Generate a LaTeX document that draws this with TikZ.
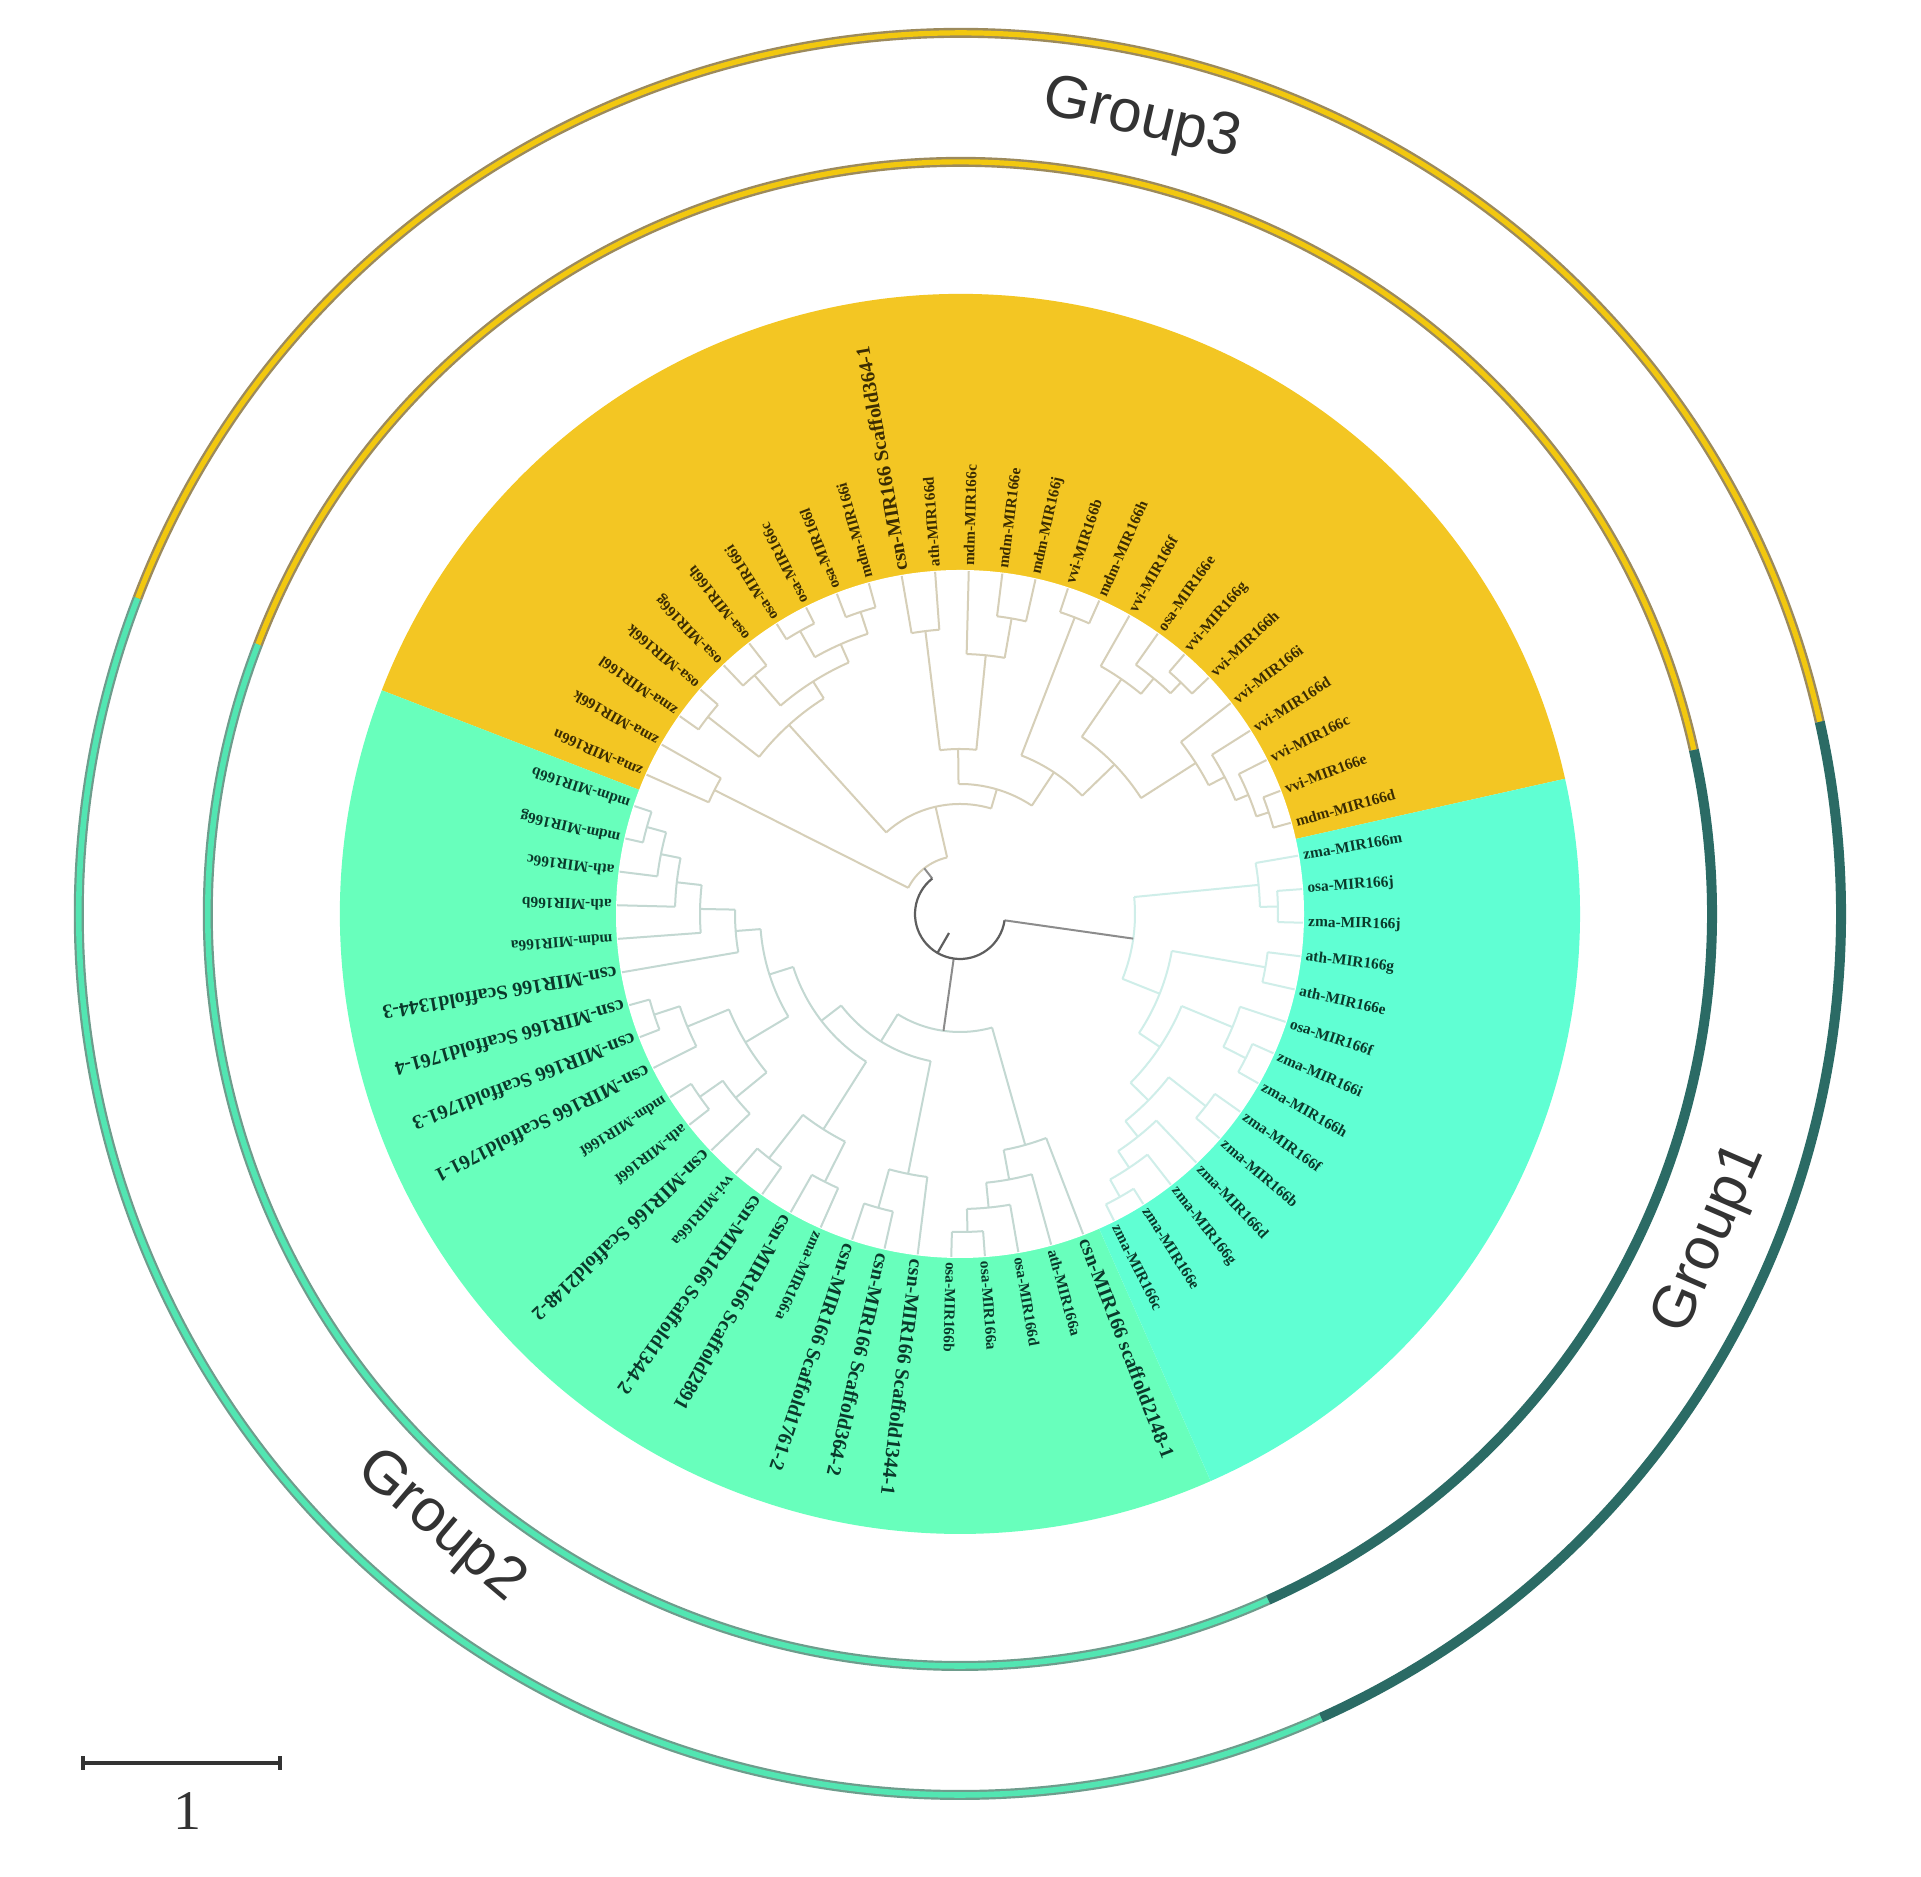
\documentclass[tikz,border=0pt]{standalone}
\usepackage{fontspec}
\setmainfont{Liberation Serif}
\newfontfamily\grpfont{Liberation Sans}
\definecolor{cgold}{HTML}{F3C623}
\definecolor{cgrA}{HTML}{60FFD3}
\definecolor{cgrB}{HTML}{68FFBC}
\definecolor{rgold}{HTML}{F2C80F}
\definecolor{rgoldE}{HTML}{9C8A5C}
\definecolor{rteal}{HTML}{2B6B65}
\definecolor{rgreen}{HTML}{52E6B2}
\definecolor{rgreenE}{HTML}{6E9C8C}
\definecolor{bgold}{HTML}{D6CFB8}
\definecolor{bgtwo}{HTML}{C3D8D2}
\definecolor{bgone}{HTML}{CFEEE9}
\definecolor{broot}{HTML}{5E5E5E}
\definecolor{bstem}{HTML}{8C8C8C}
\definecolor{tgold}{HTML}{3B2C02}
\definecolor{tgreen}{HTML}{0A3A2B}
\definecolor{grptext}{HTML}{333333}
\tikzset{
  brg/.style={draw=bgold,line width=1pt},
  brtwo/.style={draw=bgtwo,line width=1pt},
  brone/.style={draw=bgone,line width=1pt},
  brroot/.style={draw=broot,line width=1.1pt},
  brstem/.style={draw=bstem,line width=1pt},
  labs/.style={font=\fontsize{7.7}{8}\selectfont\bfseries},
  labb/.style={font=\fontsize{10}{11}\selectfont\bfseries},
  grp/.style={font=\grpfont\fontsize{30}{30}\selectfont,text=grptext,inner sep=0pt},
}
% clade: child pos 1, child pos 2, radius, parent radius, arc style, stem style
\newcommand\clade[6]{%
  \pgfmathsetmacro\aA{9.7875-5.625*(#1)}%
  \pgfmathsetmacro\aB{9.7875-5.625*(#2)}%
  \pgfmathsetmacro\aM{9.7875-5.625*((#1)+(#2))/2}%
  \pgfmathsetmacro\rr{(#3)*0.5}%
  \draw[#5] (\aA:#3) arc[start angle=\aA, end angle=\aB, radius=\rr pt];
  \draw[#6] (\aM:#4) -- (\aM:#3);}
% leaf: index, parent radius, style
\newcommand\leaf[3]{%
  \pgfmathsetmacro\aA{9.7875-5.625*(#1)}%
  \draw[#3] (\aA:#2) -- (\aA:343);}
% label: index, text, size style, colour
\newcommand\lab[4]{%
  \pgfmathsetmacro\la{9.7875-5.625*(#1)}%
  \node[#3,text=#4,rotate=\la,anchor=west,inner sep=0pt] (L#1) at (\la:348) {#2};}
% ring arc: start, end, radius, style
\newcommand\ringarc[4]{%
  \pgfmathsetmacro\rr{(#3)*0.5}%
  \draw[#4] (#1:#3) arc[start angle=#1, end angle=#2, radius=\rr pt];}
\begin{document}
\begin{tikzpicture}[x=0.5pt,y=0.5pt]
\useasboundingbox (0,0) rectangle (1921,1877);
\fill[white] (0,0) rectangle (1921,1877);
\begin{scope}[shift={(960,963)}]
% coloured sectors
\fill[cgold] (0,0) -- (12.6:620) arc[start angle=12.6, end angle=158.85, radius=310pt] -- cycle;
\fill[cgrB] (0,0) -- (158.85:620) arc[start angle=158.85, end angle=293.85, radius=310pt] -- cycle;
\fill[cgrA] (0,0) -- (-66.15:620) arc[start angle=-66.15, end angle=12.6, radius=310pt] -- cycle;
\fill[white] (0,0) circle[radius=172pt];
% rings
\foreach \R in {752,881}{
  \ringarc{12.6}{159.0}{\R}{draw=rgoldE,line width=5pt}
  \ringarc{12.6}{159.0}{\R}{draw=rgold,line width=2.6pt}
  \ringarc{159.0}{294.2}{\R}{draw=rgreenE,line width=5pt}
  \ringarc{159.0}{294.2}{\R}{draw=rgreen,line width=2.8pt}
  \ringarc{-65.8}{12.6}{\R}{draw=rteal,line width=5pt}
}
% ---------------- Group1 tree
\clade{1}{2}{318}{300}{brone}{brone}
\clade{0}{1.5}{300}{175}{brone}{brone}
\clade{3}{4}{310}{215}{brone}{brone}
\clade{6}{7}{320}{295}{brone}{brone}
\clade{5}{6.5}{295}{240}{brone}{brone}
\clade{8}{9}{312}{265}{brone}{brone}
\clade{12}{13}{325}{305}{brone}{brone}
\clade{11}{12.5}{305}{285}{brone}{brone}
\clade{10}{11.75}{285}{265}{brone}{brone}
\clade{8.5}{10.875}{265}{240}{brone}{brone}
\clade{5.75}{9.6875}{240}{215}{brone}{brone}
\clade{3.5}{7.71875}{215}{175}{brone}{brone}
\clade{0.75}{5.609375}{175}{45}{brone}{brstem}
\leaf{0}{300}{brone}\leaf{1}{318}{brone}\leaf{2}{318}{brone}
\leaf{3}{310}{brone}\leaf{4}{310}{brone}\leaf{5}{295}{brone}
\leaf{6}{320}{brone}\leaf{7}{320}{brone}\leaf{8}{312}{brone}
\leaf{9}{312}{brone}\leaf{10}{285}{brone}\leaf{11}{305}{brone}
\leaf{12}{325}{brone}\leaf{13}{325}{brone}
% ---------------- Group2 tree
\clade{17}{18}{318}{295}{brtwo}{brtwo}
\clade{16}{17.5}{295}{270}{brtwo}{brtwo}
\clade{15}{16.75}{270}{240}{brtwo}{brtwo}
\clade{14}{15.875}{240}{118}{brtwo}{brtwo}
\clade{20}{21}{305}{265}{brtwo}{brtwo}
\clade{19}{20.5}{265}{150}{brtwo}{brtwo}
\clade{22}{23}{300}{255}{brtwo}{brtwo}
\clade{24}{25}{310}{255}{brtwo}{brtwo}
\clade{22.5}{24.5}{255}{175}{brtwo}{brtwo}
\clade{27}{28}{318}{290}{brtwo}{brtwo}
\clade{26}{27.5}{290}{250}{brtwo}{brtwo}
\clade{30}{31}{322}{295}{brtwo}{brtwo}
\clade{29}{30.5}{295}{250}{brtwo}{brtwo}
\clade{26.75}{29.75}{250}{200}{brtwo}{brtwo}
\clade{36}{37}{325}{305}{brtwo}{brtwo}
\clade{35}{36.5}{305}{285}{brtwo}{brtwo}
\clade{34}{35.75}{285}{260}{brtwo}{brtwo}
\clade{33}{34.875}{260}{225}{brtwo}{brtwo}
\clade{32}{33.9375}{225}{200}{brtwo}{brtwo}
\clade{28.25}{32.96875}{200}{175}{brtwo}{brtwo}
\clade{23.5}{30.609375}{175}{150}{brtwo}{brtwo}
\clade{19.75}{27.0546875}{150}{118}{brtwo}{brtwo}
\clade{14.9375}{23.40234375}{118}{45}{brtwo}{brstem}
\leaf{14}{240}{brtwo}\leaf{15}{270}{brtwo}\leaf{16}{295}{brtwo}
\leaf{17}{318}{brtwo}\leaf{18}{318}{brtwo}\leaf{19}{265}{brtwo}
\leaf{20}{305}{brtwo}\leaf{21}{305}{brtwo}\leaf{22}{300}{brtwo}
\leaf{23}{300}{brtwo}\leaf{24}{310}{brtwo}\leaf{25}{310}{brtwo}
\leaf{26}{290}{brtwo}\leaf{27}{318}{brtwo}\leaf{28}{318}{brtwo}
\leaf{29}{295}{brtwo}\leaf{30}{322}{brtwo}\leaf{31}{322}{brtwo}
\leaf{32}{225}{brtwo}\leaf{33}{260}{brtwo}\leaf{34}{285}{brtwo}
\leaf{35}{305}{brtwo}\leaf{36}{325}{brtwo}\leaf{37}{325}{brtwo}
% ---------------- Group3 tree
\clade{38}{39}{275}{58}{brg}{brg}
\clade{40}{41}{320}{255}{brg}{brg}
\clade{42}{43}{315}{275}{brg}{brg}
\clade{44}{45}{325}{295}{brg}{brg}
\clade{46}{47}{318}{295}{brg}{brg}
\clade{44.5}{46.5}{295}{275}{brg}{brg}
\clade{42.5}{45.5}{275}{255}{brg}{brg}
\clade{40.5}{44}{255}{110}{brg}{brg}
\clade{48}{49}{285}{165}{brg}{brg}
\clade{51}{52}{300}{260}{brg}{brg}
\clade{50}{51.5}{260}{165}{brg}{brg}
\clade{48.5}{50.75}{165}{130}{brg}{brg}
\clade{53}{54}{318}{170}{brg}{brg}
\clade{57}{58}{320}{305}{brg}{brg}
\clade{56}{57.5}{305}{285}{brg}{brg}
\clade{55}{56.75}{285}{215}{brg}{brg}
\clade{62}{63}{325}{312}{brg}{brg}
\clade{61}{62.5}{312}{298}{brg}{brg}
\clade{60}{61.75}{298}{280}{brg}{brg}
\clade{59}{60.875}{280}{215}{brg}{brg}
\clade{55.875}{59.9375}{215}{170}{brg}{brg}
\clade{53.5}{57.90625}{170}{130}{brg}{brg}
\clade{49.625}{55.703125}{130}{110}{brg}{brg}
\clade{42.25}{52.6640625}{110}{58}{brg}{brg}
\clade{38.5}{47.45703125}{58}{45}{brg}{brstem}
\leaf{38}{275}{brg}\leaf{39}{275}{brg}\leaf{40}{320}{brg}
\leaf{41}{320}{brg}\leaf{42}{315}{brg}\leaf{43}{315}{brg}
\leaf{44}{325}{brg}\leaf{45}{325}{brg}\leaf{46}{318}{brg}
\leaf{47}{318}{brg}\leaf{48}{285}{brg}\leaf{49}{285}{brg}
\leaf{50}{260}{brg}\leaf{51}{300}{brg}\leaf{52}{300}{brg}
\leaf{53}{318}{brg}\leaf{54}{318}{brg}\leaf{55}{285}{brg}
\leaf{56}{305}{brg}\leaf{57}{320}{brg}\leaf{58}{320}{brg}
\leaf{59}{280}{brg}\leaf{60}{298}{brg}\leaf{61}{312}{brg}
\leaf{62}{325}{brg}\leaf{63}{325}{brg}
% ---------------- root
\clade{3.1796875}{42.978515625}{45}{22}{brroot}{brroot}
% ---------------- labels Group1
\lab{0}{zma-MIR166m}{labs}{tgreen}
\lab{1}{osa-MIR166j}{labs}{tgreen}
\lab{2}{zma-MIR166j}{labs}{tgreen}
\lab{3}{ath-MIR166g}{labs}{tgreen}
\lab{4}{ath-MIR166e}{labs}{tgreen}
\lab{5}{osa-MIR166f}{labs}{tgreen}
\lab{6}{zma-MIR166i}{labs}{tgreen}
\lab{7}{zma-MIR166h}{labs}{tgreen}
\lab{8}{zma-MIR166f}{labs}{tgreen}
\lab{9}{zma-MIR166b}{labs}{tgreen}
\lab{10}{zma-MIR166d}{labs}{tgreen}
\lab{11}{zma-MIR166g}{labs}{tgreen}
\lab{12}{zma-MIR166e}{labs}{tgreen}
\lab{13}{zma-MIR166c}{labs}{tgreen}
% ---------------- labels Group2
\lab{14}{csn-MIR166 scaffold2148-1}{labb}{tgreen}
\lab{15}{ath-MIR166a}{labs}{tgreen}
\lab{16}{osa-MIR166d}{labs}{tgreen}
\lab{17}{osa-MIR166a}{labs}{tgreen}
\lab{18}{osa-MIR166b}{labs}{tgreen}
\lab{19}{csn-MIR166 Scaffold1344-1}{labb}{tgreen}
\lab{20}{csn-MIR166 Scaffold364-2}{labb}{tgreen}
\lab{21}{csn-MIR166 Scaffold1761-2}{labb}{tgreen}
\lab{22}{zma-MIR166a}{labs}{tgreen}
\lab{23}{csn-MIR166 Scaffold2891}{labb}{tgreen}
\lab{24}{csn-MIR166 Scaffold1344-2}{labb}{tgreen}
\lab{25}{vvi-MIR166a}{labs}{tgreen}
\lab{26}{csn-MIR166 Scaffold2148-2}{labb}{tgreen}
\lab{27}{ath-MIR166f}{labs}{tgreen}
\lab{28}{mdm-MIR166f}{labs}{tgreen}
\lab{29}{csn-MIR166 Scaffold1761-1}{labb}{tgreen}
\lab{30}{csn-MIR166 Scaffold1761-3}{labb}{tgreen}
\lab{31}{csn-MIR166 Scaffold1761-4}{labb}{tgreen}
\lab{32}{csn-MIR166 Scaffold1344-3}{labb}{tgreen}
\lab{33}{mdm-MIR166a}{labs}{tgreen}
\lab{34}{ath-MIR166b}{labs}{tgreen}
\lab{35}{ath-MIR166c}{labs}{tgreen}
\lab{36}{mdm-MIR166g}{labs}{tgreen}
\lab{37}{mdm-MIR166b}{labs}{tgreen}
% ---------------- labels Group3
\lab{38}{zma-MIR166n}{labs}{tgold}
\lab{39}{zma-MIR166k}{labs}{tgold}
\lab{40}{zma-MIR166l}{labs}{tgold}
\lab{41}{osa-MIR166k}{labs}{tgold}
\lab{42}{osa-MIR166g}{labs}{tgold}
\lab{43}{osa-MIR166h}{labs}{tgold}
\lab{44}{osa-MIR166i}{labs}{tgold}
\lab{45}{osa-MIR166c}{labs}{tgold}
\lab{46}{osa-MIR166l}{labs}{tgold}
\lab{47}{mdm-MIR166i}{labs}{tgold}
\lab{48}{csn-MIR166 Scaffold364-1}{labb}{tgold}
\lab{49}{ath-MIR166d}{labs}{tgold}
\lab{50}{mdm-MIR166c}{labs}{tgold}
\lab{51}{mdm-MIR166e}{labs}{tgold}
\lab{52}{mdm-MIR166j}{labs}{tgold}
\lab{53}{vvi-MIR166b}{labs}{tgold}
\lab{54}{mdm-MIR166h}{labs}{tgold}
\lab{55}{vvi-MIR166f}{labs}{tgold}
\lab{56}{osa-MIR166e}{labs}{tgold}
\lab{57}{vvi-MIR166g}{labs}{tgold}
\lab{58}{vvi-MIR166h}{labs}{tgold}
\lab{59}{vvi-MIR166i}{labs}{tgold}
\lab{60}{vvi-MIR166d}{labs}{tgold}
\lab{61}{vvi-MIR166c}{labs}{tgold}
\lab{62}{vvi-MIR166e}{labs}{tgold}
\lab{63}{mdm-MIR166d}{labs}{tgold}
% ---------------- group names
\node[grp,rotate=-13] (gthree) at (77.1:814) {Group3};
\node[grp,rotate=66.6] (gone) at (-23.4:818) {Group1};
\node[grp,rotate=-40.3] (gtwo) at (-130.3:804) {Group2};
\end{scope}
% ---------------- scale bar
\coordinate (sbL) at (83,114);
\coordinate (sbR) at (280,114);
\draw[draw=grptext,line width=2.2pt] (sbL) -- (sbR);
\draw[draw=grptext,line width=1.6pt] ([yshift=-3.5pt]sbL) -- ([yshift=3.5pt]sbL);
\draw[draw=grptext,line width=1.6pt] ([yshift=-3.5pt]sbR) -- ([yshift=3.5pt]sbR);
\node[font=\fontsize{28}{28}\selectfont,text=grptext,inner sep=0pt] (sbtext) at (187,66) {1};
\end{tikzpicture}
\end{document}
